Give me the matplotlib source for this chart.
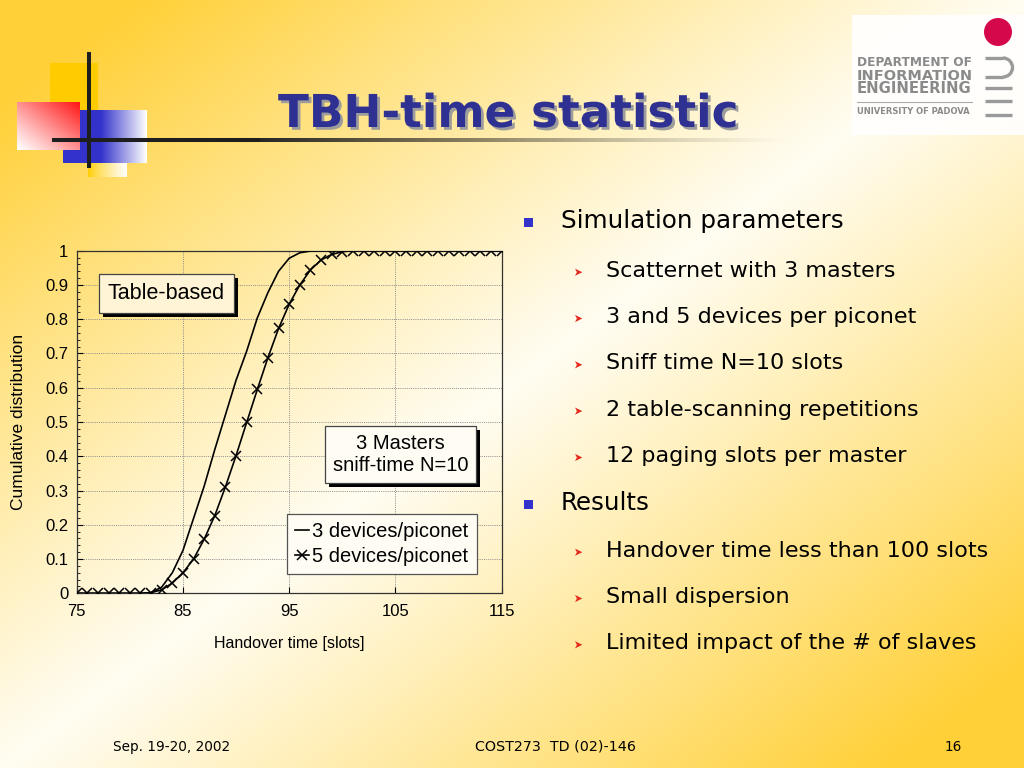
import numpy as np
import matplotlib
matplotlib.use("Agg")
import matplotlib.pyplot as plt
from matplotlib import patheffects as pe
from matplotlib import font_manager as fm
from matplotlib.patches import Rectangle, Circle, Arc, Polygon

# ---------------- data ----------------
slots = [75, 76, 77, 78, 79, 80, 81, 82, 83, 84, 85, 86, 87, 88, 89, 90, 91, 92, 93, 94,
         95, 96, 97, 98, 99, 100, 101, 102, 103, 104, 105, 106, 107, 108, 109, 110,
         111, 112, 113, 114, 115]
cdf_3_devices = [0.0, 0.0, 0.0, 0.0, 0.0, 0.0, 0.0, 0.002, 0.018, 0.06, 0.125, 0.219,
                 0.313, 0.42, 0.521, 0.622, 0.707, 0.804, 0.878, 0.94, 0.978, 0.994,
                 0.999, 1.0, 1.0, 1.0, 1.0, 1.0, 1.0, 1.0, 1.0, 1.0, 1.0, 1.0, 1.0, 1.0,
                 1.0, 1.0, 1.0, 1.0, 1.0]
cdf_5_devices = [0.0, 0.0, 0.0, 0.0, 0.0, 0.0, 0.0, 0.002, 0.01, 0.03, 0.06, 0.10,
                 0.158, 0.227, 0.311, 0.402, 0.499, 0.595, 0.688, 0.773, 0.844, 0.90,
                 0.944, 0.973, 0.989, 0.997, 1.0, 1.0, 1.0, 1.0, 1.0, 1.0, 1.0, 1.0,
                 1.0, 1.0, 1.0, 1.0, 1.0, 1.0, 1.0]
series_labels = ["3 devices/piconet", "5 devices/piconet"]
x_ticks = [75, 85, 95, 105, 115]
y_ticks = [0, 0.1, 0.2, 0.3, 0.4, 0.5, 0.6, 0.7, 0.8, 0.9, 1.0]
y_tick_labels = ["0", "0.1", "0.2", "0.3", "0.4", "0.5", "0.6", "0.7", "0.8", "0.9", "1"]
x_label = "Handover time [slots]"
y_label = "Cumulative distribution"
box_scheme = "Table-based"
box_setup = "3 Masters\nsniff-time N=10"

title = "TBH-time statistic"
bullets = [
    ("Simulation parameters", 0),
    ("Scatternet with 3 masters", 1),
    ("3 and 5 devices per piconet", 1),
    ("Sniff time N=10 slots", 1),
    ("2 table-scanning repetitions", 1),
    ("12 paging slots per master", 1),
    ("Results", 0),
    ("Handover time less than 100 slots", 1),
    ("Small dispersion", 1),
    ("Limited impact of the # of slaves", 1),
]
footer_left = "Sep. 19-20, 2002"
footer_mid = "COST273  TD (02)-146"
footer_right = "16"
logo_lines = ["DEPARTMENT OF", "INFORMATION", "ENGINEERING"]
logo_sub = "UNIVERSITY OF PADOVA"

# ---------------- figure ----------------
W, H = 1024, 768
fig = plt.figure(figsize=(W / 100, H / 100), dpi=100)
available = {f.name for f in fm.fontManager.ttflist}
narrow = "Liberation Sans Narrow" if "Liberation Sans Narrow" in available else "DejaVu Sans"
plt.rcParams["font.family"] = ["Liberation Sans", "DejaVu Sans"]

bg = fig.add_axes([0, 0, 1, 1])
bg.axis("off")

yy, xx = np.mgrid[0:H, 0:W]
d = np.abs(xx / W + yy / H - 1.0)
t = np.clip(d * 1.15, 0, 1) ** 1.05
light = np.array([255, 253, 242]) / 255.0
yellow = np.array([255, 208, 55]) / 255.0
img = light * (1 - t[..., None]) + yellow * t[..., None]
bg.imshow(img, extent=(0, W, H, 0), aspect="auto", zorder=0)


def grad_rect(x0, y0, x1, y1, func, z):
    u = np.linspace(0, 1, 80)
    U, V = np.meshgrid(u, u)
    bg.imshow(func(U, V), extent=(x0, x1, y1, y0), aspect="auto", zorder=z,
              interpolation="bilinear")


gold = np.array([255, 204, 0]) / 255.0
white = np.array([1.0, 1.0, 1.0])
red = np.array([255, 20, 20]) / 255.0
blue = np.array([51, 51, 204]) / 255.0

# decoration top-left
grad_rect(50, 63, 98, 112, lambda U, V: np.ones(U.shape + (3,)) * gold, 2)
grad_rect(88, 163, 127, 177,
          lambda U, V: gold * (1 - U[..., None] ** 0.8) + white * (U[..., None] ** 0.8), 2)


def blue_f(U, V):
    s = np.clip((U - 0.45) / 0.55, 0, 1)[..., None]
    return blue * (1 - s) + white * s


grad_rect(63, 110, 147, 163, blue_f, 3)


def red_f(U, V):
    s = np.clip((U + (1 - V)) / 2.0, 0, 1)[..., None] ** 1.1
    return white * (1 - s) + red * s


grad_rect(17, 102, 80, 150, red_f, 4)
bg.plot([89, 89], [52, 168], color="#1e1e1e", lw=2.9, solid_capstyle="butt", zorder=6)
bg.plot([52, 260], [140, 140], color="#1e1e1e", lw=2.9, solid_capstyle="butt", zorder=6)
line_rgba = np.zeros((4, 200, 4))
line_rgba[..., :3] = 0.15
line_rgba[..., 3] = np.linspace(1, 0, 200) ** 1.2
bg.imshow(line_rgba, extent=(260, 790, 142, 138), aspect="auto", zorder=6)

# logo
bg.add_patch(Rectangle((852, 15), 172, 120, fc="white", ec="none", alpha=0.9, zorder=2))
bg.add_patch(Circle((998, 32), 14, fc="#D4084B", ec="none", zorder=3))
gray = "#9a9a9a"
bg.plot([985, 1003], [58, 58], color=gray, lw=2.4, zorder=3, solid_capstyle="butt")
bg.plot([985, 1003], [77, 77], color=gray, lw=2.4, zorder=3, solid_capstyle="butt")
bg.add_patch(Arc((1003, 67.5), 19, 19, theta1=-90, theta2=90, color=gray, lw=2.4, zorder=3))
for yb in [88, 101, 115]:
    bg.plot([985, 1012], [yb, yb], color=gray, lw=2.4, zorder=3, solid_capstyle="butt")
bg.plot([857, 972], [102, 102], color="#aaaaaa", lw=0.8, zorder=3)

renderer = fig.canvas.get_renderer()


def fit(txt, target_w):
    w = txt.get_window_extent(renderer).width
    txt.set_fontsize(txt.get_fontsize() * target_w / w)
    return txt.get_fontsize()


for line, yb in zip(logo_lines, [66, 79.5, 93]):
    tx = bg.text(857, yb, line, ha="left", va="baseline", fontsize=10, fontweight="bold",
                 color="#8a8a8a", family=["DejaVu Sans"], zorder=4)
    fit(tx, 115)
tx = bg.text(857, 114.3, logo_sub, ha="left", va="baseline", fontsize=6, fontweight="bold",
             color="#8a8a8a", family=["DejaVu Sans"], zorder=4)
fit(tx, 113)

# title
tt = bg.text(278, 127, title, ha="left", va="baseline", fontsize=30, fontweight="bold",
             color="#2E3192", family=["DejaVu Sans"], zorder=7,
             path_effects=[pe.withSimplePatchShadow(offset=(2, -2), shadow_rgbFace="#9c9c9c",
                                                   alpha=1.0)])
fit(tt, 460)

# bullets
main_base = [228, 510]
sub_base = [276.7, 323, 369.3, 415.6, 462, 556.7, 603, 649.3]
mi, si = 0, 0
main_texts, sub_texts = [], []
for text, lvl in bullets:
    if lvl == 0:
        yb = main_base[mi]; mi += 1
        tx = bg.text(561, yb, text, ha="left", va="baseline", fontsize=18, color="black",
                     family=["DejaVu Sans"], zorder=5)
        bg.add_patch(Rectangle((524, yb - 10), 8.7, 8.7, fc="#3333CC", ec="none", zorder=5))
        main_texts.append(tx)
    else:
        yb = sub_base[si]; si += 1
        tx = bg.text(606, yb, text, ha="left", va="baseline", fontsize=16, color="black",
                     family=["DejaVu Sans"], zorder=5)
        cx, cy = 578.5, yb - 4.5
        bg.add_patch(Polygon([[cx - 3.5, cy - 3.6], [cx + 3.8, cy], [cx - 3.5, cy + 3.6],
                              [cx - 1.6, cy]], closed=True, fc="#E52A1E", ec="none", zorder=5))
        sub_texts.append(tx)
fs_main = fit(main_texts[0], 282)
for tx in main_texts:
    tx.set_fontsize(fs_main)
fs_sub = fit(sub_texts[5], 383)
for tx in sub_texts:
    tx.set_fontsize(fs_sub)

# footer
f1 = bg.text(113, 751, footer_left, ha="left", va="baseline", fontsize=10, family=[narrow],
             color="black", zorder=5)
fs_f = fit(f1, 117)
f2 = bg.text(475, 751, footer_mid, ha="left", va="baseline", fontsize=fs_f, family=[narrow],
             color="black", zorder=5)
fit(f2, 160)
f3 = bg.text(962, 751, footer_right, ha="right", va="baseline", fontsize=fs_f, family=[narrow],
             color="black", zorder=5)

bg.set_xlim(0, W)
bg.set_ylim(H, 0)

# ---------------- chart ----------------
L, R, T, B = 76.7, 501.7, 250.7, 593.3
ax = fig.add_axes([L / W, 1 - B / H, (R - L) / W, (B - T) / H])
ax.set_facecolor("none")
ax.plot(slots, cdf_3_devices, color="black", lw=1.2, label=series_labels[0], zorder=3)
ax.plot(slots, cdf_5_devices, color="black", lw=1.2, marker="x", markersize=7.5,
        markeredgewidth=1.1, label=series_labels[1], zorder=3)
ax.set_xlim(75, 115)
ax.set_ylim(0, 1)
ax.set_xticks(x_ticks)
ax.set_yticks(y_ticks)
ax.set_yticklabels(y_tick_labels)
ax.set_yticks(np.arange(0, 1.001, 0.02), minor=True)
ax.tick_params(axis="both", which="major", direction="in", length=4, width=0.8,
               labelsize=12, colors="black")
ax.tick_params(axis="x", pad=8)
ax.tick_params(axis="y", pad=6)
ax.tick_params(axis="y", which="minor", direction="in", length=2.5, width=0.6)
ax.grid(True, which="major", color="#8c8c8c", linestyle=(0, (1, 1.2)), linewidth=0.7)
for s in ax.spines.values():
    s.set_color("#333333")
    s.set_linewidth(0.9)
ax.set_xlabel(x_label, fontsize=11.5, labelpad=12)
ax.set_ylabel(y_label, fontsize=12.5, labelpad=14)

t1 = ax.text(83.43, 0.8756, box_scheme, ha="center", va="center", fontsize=15.5, zorder=5,
             bbox=dict(boxstyle="square,pad=0.42", fc="#FFF5D6", ec="#444444", lw=0.9))
t1.get_bbox_patch().set_path_effects([pe.SimplePatchShadow(offset=(3, -3), shadow_rgbFace="black",
                                                           alpha=1.0), pe.Normal()])
t2 = ax.text(105.47, 0.405, box_setup, ha="center", va="center", multialignment="center",
             fontsize=14.5, linespacing=1.25, zorder=5,
             bbox=dict(boxstyle="square,pad=0.38", fc="#FFFCF3", ec="#444444", lw=0.9))
t2.get_bbox_patch().set_path_effects([pe.SimplePatchShadow(offset=(3, -3), shadow_rgbFace="black",
                                                           alpha=1.0), pe.Normal()])
leg = ax.legend(loc="upper right", bbox_to_anchor=(0.941, 0.2315), borderaxespad=0,
                borderpad=0.4, handlelength=0.7, handletextpad=0.15, labelspacing=0.3,
                fancybox=False, edgecolor="#555555", facecolor="#FFFCF3", framealpha=1,
                fontsize=14.5)
leg.get_frame().set_linewidth(0.9)
leg.set_zorder(5)

fig.savefig("out.png", dpi=100)
